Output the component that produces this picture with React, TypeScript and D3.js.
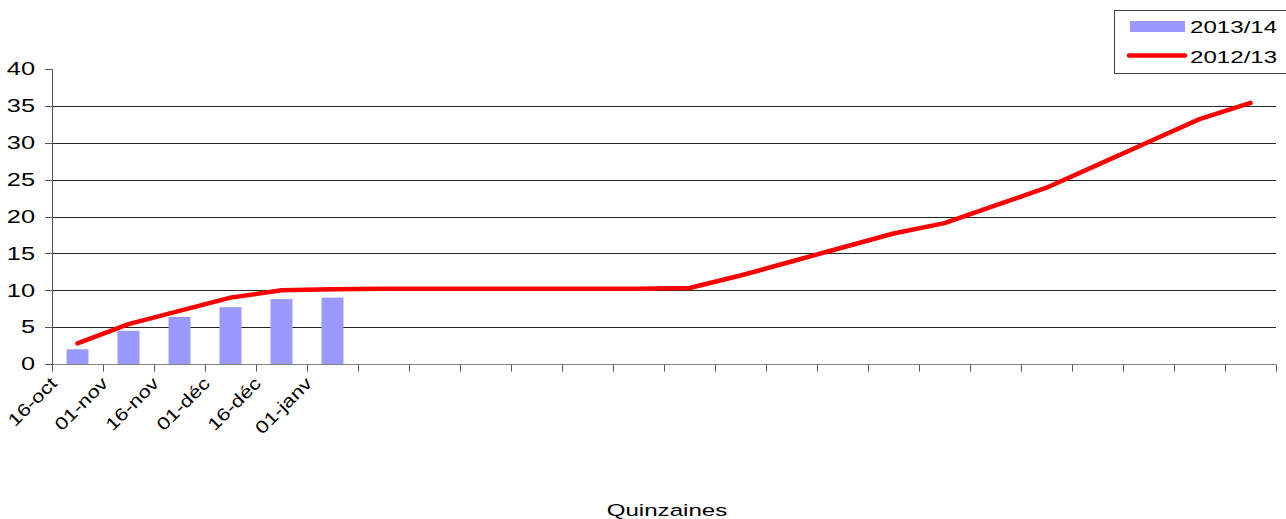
import * as d3 from 'd3';
import { useRef, useEffect } from 'react';

// quinzaines (24 half-months), only the first six carry a label
const categories = d3.range(24);
const tickLabels = ["16-oct", "01-nov", "16-nov", "01-déc", "16-déc", "01-janv"];
const yTicks = [0, 5, 10, 15, 20, 25, 30, 35, 40];

const series2013 = "2013/14";
const series2012 = "2012/13";
const values2013 = [2.0, 4.5, 6.4, 7.7, 8.8, 9.0];
const values2012 = [2.8, 5.4, 7.2, 9.0, 10.0, 10.15, 10.2, 10.2, 10.2, 10.2, 10.2, 10.2,
  10.3, 12.0, 13.9, 15.8, 17.7, 19.1, 21.5, 23.9, 27.0, 30.1, 33.2, 35.4];

const xTitle = "Quinzaines";

export default function App() {
  const ref = useRef<SVGSVGElement>(null);

  useEffect(() => {
    // --- 1. Dimensions ---
    const width = 1286;
    const height = 519;
    const margin = { top: 69, right: 10, bottom: 155, left: 52 };
    const stretch = 1.45; // text in the original is widened
    const font = "'Liberation Sans', Arial, sans-serif";

    // --- 2. Scales ---
    const x = d3.scaleBand<number>()
      .domain(categories)
      .range([margin.left, width - margin.right]);

    const xBar = d3.scaleBand<number>()
      .domain(categories)
      .range([margin.left, width - margin.right])
      .paddingInner(0.57)
      .paddingOuter(0.285);

    const y = d3.scaleLinear()
      .domain([0, 40])
      .range([height - margin.bottom, margin.top]);

    const svg = d3.select(ref.current)
      .attr("width", width)
      .attr("height", height)
      .style("font-family", font);

    svg.selectAll("*").remove();

    // --- 3. Gridlines ---
    svg.append("g")
      .selectAll("line")
      .data(yTicks.filter(d => d > 0 && d < 40))
      .join("line")
      .attr("x1", margin.left)
      .attr("x2", width - margin.right)
      .attr("y1", d => Math.round(y(d)) + 0.5)
      .attr("y2", d => Math.round(y(d)) + 0.5)
      .attr("stroke", "#262626")
      .attr("stroke-width", 1);

    // --- 4. Bars (2013/14) ---
    svg.append("g")
      .selectAll("rect")
      .data(values2013)
      .join("rect")
      .attr("x", (d, i) => xBar(i)!)
      .attr("y", d => y(d))
      .attr("width", xBar.bandwidth())
      .attr("height", d => y(0) - y(d))
      .attr("fill", "#9999FF");

    // --- 5. Axes ---
    const y0 = Math.round(y(0)) + 0.5;
    const xAxis = svg.append("g");
    xAxis.append("line")
      .attr("x1", margin.left).attr("x2", width - margin.right)
      .attr("y1", y0).attr("y2", y0)
      .attr("stroke", "#808080");
    const boundaries = categories.map(c => x(c)!).concat([width - margin.right]);
    xAxis.selectAll("line.tick")
      .data(boundaries)
      .join("line")
      .attr("class", "tick")
      .attr("x1", d => Math.round(d) + 0.5).attr("x2", d => Math.round(d) + 0.5)
      .attr("y1", y0).attr("y2", y0 + 7)
      .attr("stroke", "#555");

    xAxis.selectAll("text")
      .data(tickLabels)
      .join("text")
      .attr("transform", (d, i) => `translate(${x(i)! + 6},${y0 + 20}) rotate(-45) scale(1.25,1)`)
      .attr("text-anchor", "end")
      .attr("font-size", 17.5)
      .attr("fill", "#000")
      .text(d => d);

    const yAxis = svg.append("g");
    yAxis.append("line")
      .attr("x1", margin.left + 0.5).attr("x2", margin.left + 0.5)
      .attr("y1", y(40)).attr("y2", y0)
      .attr("stroke", "#555");
    yAxis.selectAll("line.tick")
      .data(yTicks)
      .join("line")
      .attr("class", "tick")
      .attr("x1", margin.left - 7).attr("x2", margin.left)
      .attr("y1", d => Math.round(y(d)) + 0.5)
      .attr("y2", d => Math.round(y(d)) + 0.5)
      .attr("stroke", "#555");
    yAxis.selectAll("text")
      .data(yTicks)
      .join("text")
      .attr("transform", d => `translate(${margin.left - 17},${y(d)}) scale(${stretch},1)`)
      .attr("text-anchor", "end")
      .attr("dy", "0.36em")
      .attr("font-size", 17.5)
      .attr("fill", "#000")
      .text(d => d);

    // --- 6. Line (2012/13) ---
    const line = d3.line<number>()
      .x((d, i) => x(i)! + x.bandwidth() / 2)
      .y(d => y(d));

    svg.append("path")
      .datum(values2012)
      .attr("d", line)
      .attr("fill", "none")
      .attr("stroke", "#FF0000")
      .attr("stroke-width", 4.5)
      .attr("stroke-linejoin", "round")
      .attr("stroke-linecap", "round");

    // --- 7. Axis title ---
    svg.append("text")
      .attr("transform", `translate(${667},${516}) scale(1.42,1)`)
      .attr("text-anchor", "middle")
      .attr("font-size", 17)
      .attr("fill", "#000")
      .text(xTitle);

    // --- 8. Legend ---
    const legend = svg.append("g");
    legend.append("rect")
      .attr("x", 1114.5).attr("y", 10.5)
      .attr("width", 190).attr("height", 63)
      .attr("fill", "#fff")
      .attr("stroke", "#404040");
    legend.append("rect")
      .attr("x", 1130).attr("y", 21)
      .attr("width", 55).attr("height", 11)
      .attr("fill", "#9999FF");
    legend.append("line")
      .attr("x1", 1129).attr("x2", 1185)
      .attr("y1", 55.5).attr("y2", 55.5)
      .attr("stroke", "#FF0000")
      .attr("stroke-width", 4.5)
      .attr("stroke-linecap", "round");
    legend.selectAll("text")
      .data([series2013, series2012])
      .join("text")
      .attr("transform", (d, i) => `translate(1190,${33 + i * 30}) scale(1.42,1)`)
      .attr("font-size", 17)
      .attr("fill", "#000")
      .text(d => d);
  }, []);

  return (
    <svg ref={ref} style={{ position: "absolute", left: 0, top: 0, background: "#fff" }}></svg>
  );
}
